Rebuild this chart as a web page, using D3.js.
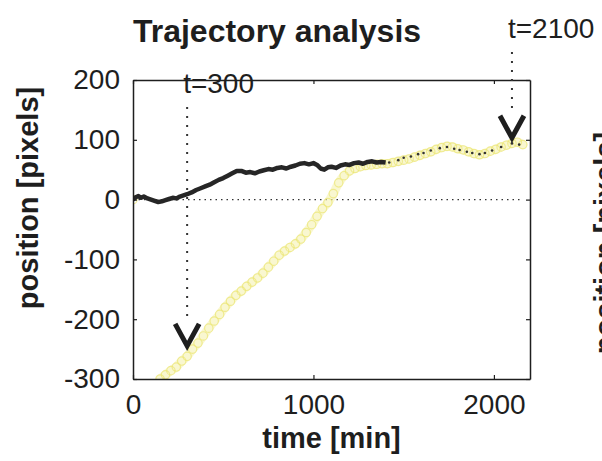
<!DOCTYPE html>
<html>
<head>
<meta charset="utf-8">
<script src="https://cdn.jsdelivr.net/npm/d3@7"></script>
<style>
  html, body { margin: 0; padding: 0; background: #fff; }
</style>
</head>
<body>
<div id="chart"></div>
<script>
// black trajectory (cell 1)
const blackT = [0, 15, 30, 45, 60, 80, 100, 120, 140, 160, 180, 200, 220, 240, 260, 280, 300, 325, 350, 375, 400, 425, 450, 475, 500, 525, 550, 575, 600, 625, 650, 675, 700, 725, 750, 775, 800, 825, 850, 875, 900, 925, 950, 975, 1000, 1020, 1040, 1060, 1080, 1100, 1125, 1150, 1175, 1200, 1225, 1250, 1275, 1300, 1325, 1350, 1375, 1400];
const blackV = [0, 4, 6, 3, 5, 2, 0, -2, -4, -3, -1, 1, 3, 2, 5, 7, 9, 12, 16, 19, 22, 25, 29, 33, 36, 40, 44, 48, 48, 45, 46, 44, 47, 49, 51, 50, 53, 54, 52, 55, 57, 60, 61, 59, 61, 58, 52, 50, 54, 55, 53, 57, 59, 58, 61, 62, 60, 63, 64, 62, 63, 62];

// sparse black specks on top of the yellow track
const speckT = [1420, 1470, 1500, 1540, 1580, 1610, 1650, 1700, 1740, 1780, 1810, 1850, 1880, 1920, 1950, 1990, 2040, 2100, 2140];
const speckV = [62, 66, 70, 72, 76, 78, 82, 86, 88, 85, 83, 80, 78, 76, 78, 82, 88, 94, 92];

// yellow trajectory (cell 2)
const yellowT = [0, 150, 180, 210, 240, 270, 300, 330, 360, 390, 420, 450, 480, 510, 540, 570, 600, 630, 660, 690, 720, 750, 780, 810, 840, 870, 900, 930, 960, 990, 1020, 1050, 1080, 1110, 1140, 1170, 1200, 1230, 1260, 1290, 1320, 1350, 1380, 1410, 1440, 1470, 1500, 1530, 1560, 1590, 1620, 1650, 1680, 1710, 1740, 1770, 1800, 1830, 1860, 1890, 1920, 1950, 1980, 2010, 2040, 2070, 2100, 2130, 2160];
const yellowV = [0, -300, -293, -286, -280, -270, -262, -250, -240, -228, -215, -203, -192, -180, -170, -160, -153, -145, -138, -131, -123, -113, -103, -93, -86, -80, -74, -66, -55, -42, -28, -15, -5, 10, 28, 40, 48, 52, 55, 57, 58, 59, 60, 60, 62, 64, 66, 68, 71, 74, 77, 80, 84, 87, 89, 88, 85, 83, 80, 77, 75, 77, 81, 84, 88, 91, 94, 96, 92];

// annotated time points
const markT = [300, 2100];
const markV = [-248, 100];
const markLabels = ["t=300", "t=2100"];

const xTicks = [0, 1000, 2000];
const yTicks = [-300, -200, -100, 0, 100, 200];

const width = 602;
const height = 461;
const marginLeft = 133;
const marginRight = 72;
const marginTop = 80;
const marginBottom = 82;
const fontFamily = "'Liberation Sans', Arial, Helvetica, sans-serif";
const ink = "#1e1e1e";

const xScale = d3.scaleLinear([0, 2200], [marginLeft, width - marginRight]);
const yScale = d3.scaleLinear([-300, 200], [height - marginBottom, marginTop]);

const svg = d3
  .select("#chart")
  .append("svg")
  .attr("width", width)
  .attr("height", height)
  .attr("viewBox", [0, 0, width, height])
  .style("display", "block")
  .style("background", "#fff");

svg
  .append("defs")
  .append("clipPath")
  .attr("id", "plotClip")
  .append("rect")
  .attr("x", marginLeft)
  .attr("y", marginTop)
  .attr("width", width - marginLeft - marginRight)
  .attr("height", height - marginTop - marginBottom);

// zero line
svg
  .append("line")
  .attr("x1", xScale(0))
  .attr("x2", xScale(2150))
  .attr("y1", yScale(0))
  .attr("y2", yScale(0))
  .attr("stroke", "#333")
  .attr("stroke-width", 1.2)
  .attr("stroke-dasharray", "1.5,4");

const plot = svg.append("g").attr("clip-path", "url(#plotClip)");

// yellow track: soft band plus open circles
const yellowLine = d3
  .line()
  .x((i) => xScale(yellowT[i]))
  .y((i) => yScale(yellowV[i]))
  .curve(d3.curveCatmullRom);

plot
  .append("path")
  .attr("d", yellowLine(d3.range(1, yellowT.length)))
  .attr("fill", "none")
  .attr("stroke", "#f5f2b0")
  .attr("stroke-width", 9)
  .attr("stroke-opacity", 0.6)
  .attr("stroke-linecap", "round");

plot
  .append("g")
  .selectAll("circle")
  .data(d3.range(yellowT.length))
  .join("circle")
  .attr("cx", (i) => xScale(yellowT[i]))
  .attr("cy", (i) => yScale(yellowV[i]))
  .attr("r", 4.2)
  .attr("fill", "none")
  .attr("stroke", "#ebe672")
  .attr("stroke-width", 1.2)
  .attr("stroke-opacity", 0.7);

// black track
const blackLine = d3
  .line()
  .x((i) => xScale(blackT[i]))
  .y((i) => yScale(blackV[i]));

plot
  .append("path")
  .attr("d", blackLine(d3.range(blackT.length)))
  .attr("fill", "none")
  .attr("stroke", "#262626")
  .attr("stroke-width", 4.5)
  .attr("stroke-linejoin", "round");

plot
  .append("g")
  .selectAll("circle")
  .data(d3.range(speckT.length))
  .join("circle")
  .attr("cx", (i) => xScale(speckT[i]))
  .attr("cy", (i) => yScale(speckV[i]))
  .attr("r", 1.3)
  .attr("fill", "#333");

// axes, ticks pointing inward
function styleAxis(g) {
  g.select(".domain").attr("stroke", ink).attr("stroke-width", 1.5);
  g.selectAll(".tick line").attr("stroke", ink).attr("stroke-width", 1.2);
  g.selectAll(".tick text")
    .attr("font-size", 28)
    .attr("font-family", fontFamily)
    .attr("fill", ink);
}

const plainNum = (d) => String(d);

svg
  .append("g")
  .attr("transform", `translate(0,${height - marginBottom})`)
  .call(d3.axisBottom(xScale).tickValues(xTicks).tickSizeInner(-4).tickSizeOuter(0).tickPadding(15).tickFormat(plainNum))
  .call(styleAxis);

svg
  .append("g")
  .attr("transform", `translate(0,${marginTop})`)
  .call(d3.axisTop(xScale).tickValues(xTicks).tickSizeInner(-4).tickSizeOuter(0).tickFormat(""))
  .call(styleAxis);

svg
  .append("g")
  .attr("transform", `translate(${marginLeft},0)`)
  .call(d3.axisLeft(yScale).tickValues(yTicks).tickSizeInner(-4).tickSizeOuter(0).tickPadding(13).tickFormat(plainNum))
  .call(styleAxis);

svg
  .append("g")
  .attr("transform", `translate(${width - marginRight},0)`)
  .call(d3.axisRight(yScale).tickValues(yTicks).tickSizeInner(-4).tickSizeOuter(0).tickFormat(""))
  .call(styleAxis);

// annotations: label, dotted drop line, chevron at the point
const labelBase = [93, 38];
markT.forEach((t, k) => {
  const px = xScale(t);
  const py = yScale(markV[k]);
  svg
    .append("line")
    .attr("x1", px)
    .attr("x2", px)
    .attr("y1", labelBase[k] + 14)
    .attr("y2", py - 28)
    .attr("stroke", "#333")
    .attr("stroke-width", 2)
    .attr("stroke-dasharray", "2,7");
  svg
    .append("path")
    .attr("d", `M${px - 12},${py - 24}L${px},${py - 2}L${px + 12},${py - 24}`)
    .attr("fill", "none")
    .attr("stroke", ink)
    .attr("stroke-width", 5);
  svg
    .append("text")
    .attr("x", px - 4)
    .attr("y", labelBase[k])
    .attr("font-size", 28)
    .attr("font-family", fontFamily)
    .attr("fill", ink)
    .text(markLabels[k]);
});

// titles
svg
  .append("text")
  .attr("x", 277)
  .attr("y", 42)
  .attr("text-anchor", "middle")
  .attr("font-size", 32)
  .attr("font-weight", 700)
  .attr("font-family", fontFamily)
  .attr("fill", ink)
  .text("Trajectory analysis");

svg
  .append("text")
  .attr("x", (marginLeft + width - marginRight) / 2)
  .attr("y", 448)
  .attr("text-anchor", "middle")
  .attr("font-size", 29)
  .attr("font-weight", 700)
  .attr("font-family", fontFamily)
  .attr("fill", ink)
  .text("time [min]");

svg
  .append("text")
  .attr("transform", "translate(38,198) rotate(-90)")
  .attr("text-anchor", "middle")
  .attr("font-size", 29)
  .attr("font-weight", 700)
  .attr("font-family", fontFamily)
  .attr("fill", ink)
  .text("position [pixels]");

// neighbouring panel's label, cut by the page edge as in the source figure
svg
  .append("text")
  .attr("transform", "translate(615,243) rotate(-90)")
  .attr("text-anchor", "middle")
  .attr("font-size", 29)
  .attr("font-weight", 700)
  .attr("font-family", fontFamily)
  .attr("fill", ink)
  .text("position [pixels]");
</script>
</body>
</html>
